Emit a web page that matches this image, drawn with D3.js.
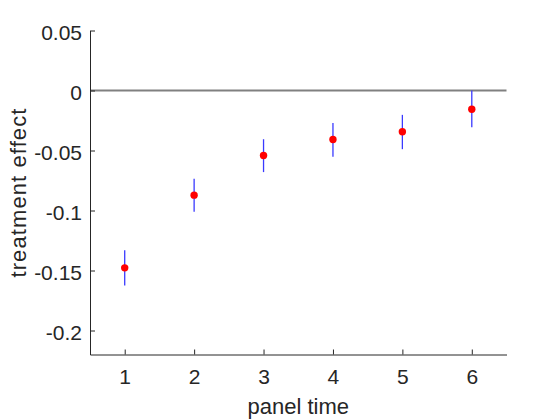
<!DOCTYPE html>
<html>
<head>
<meta charset="utf-8">
<script src="https://cdn.jsdelivr.net/npm/d3@7"></script>
<style>
  html, body { margin: 0; padding: 0; background: #fff; }
  svg { display: block; font-family: "Liberation Sans", Arial, sans-serif; }
</style>
</head>
<body>
<svg id="chart" width="560" height="420"></svg>
<script>
// ---- data ----
const panelTimes = [1, 2, 3, 4, 5, 6];
const effects    = [-0.1478, -0.0872, -0.0542, -0.0408, -0.0344, -0.0156];
const lowerCI    = [-0.1625, -0.1011, -0.0680, -0.0553, -0.0489, -0.0306];
const upperCI    = [-0.1331, -0.0736, -0.0406, -0.0270, -0.0203, 0.0000];
const xTickValues = [1, 2, 3, 4, 5, 6];
const yTickValues = [0.05, 0, -0.05, -0.1, -0.15, -0.2];
const yTickLabels = ["0.05", "0", "-0.05", "-0.1", "-0.15", "-0.2"];
const xDomain = [0.5, 6.5];
const yDomain = [-0.22, 0.05];

// ---- layout ----
const svg = d3.select("#chart");
const mLeft = 90, mRight = 506.5, mTop = 30.5, mBottom = 354.5;
const axisColor = "#262626";
const fontFam = "Liberation Sans, Arial, sans-serif";

const x = d3.scaleLinear().domain(xDomain).range([mLeft, mRight]);
const y = d3.scaleLinear().domain(yDomain).range([mBottom, mTop]);

// zero line
svg.append("line")
  .attr("x1", x(xDomain[0])).attr("x2", x(xDomain[1]))
  .attr("y1", y(0)).attr("y2", y(0))
  .attr("stroke", "#808080").attr("stroke-width", 2);

// x axis (ticks inward)
const xAxis = d3.axisBottom(x).tickValues(xTickValues).tickSizeInner(-5).tickSizeOuter(0).tickPadding(15)
  .tickFormat(d3.format("d"));
const gx = svg.append("g").attr("transform", `translate(0,${mBottom})`).call(xAxis);
gx.select(".domain").attr("stroke", axisColor);
gx.selectAll(".tick line").attr("stroke", axisColor);
gx.selectAll(".tick text").attr("fill", axisColor).attr("font-size", 21)
  .attr("font-family", fontFam);

// y axis (ticks inward)
const yAxis = d3.axisLeft(y).tickValues(yTickValues).tickSizeInner(-5).tickSizeOuter(0).tickPadding(8)
  .tickFormat((d, i) => yTickLabels[i]);
const gy = svg.append("g").attr("transform", `translate(${mLeft},0)`).call(yAxis);
gy.select(".domain").attr("stroke", axisColor);
gy.selectAll(".tick line").attr("stroke", axisColor);
gy.selectAll(".tick text").attr("fill", axisColor).attr("font-size", 21)
  .attr("font-family", fontFam).attr("dy", "0.42em");

// error bars
svg.append("g").selectAll("line").data(panelTimes).join("line")
  .attr("x1", d => x(d)).attr("x2", d => x(d))
  .attr("y1", (d, i) => y(upperCI[i])).attr("y2", (d, i) => y(lowerCI[i]))
  .attr("stroke", "#3a3aff").attr("stroke-width", 1.3);

// points
svg.append("g").selectAll("circle").data(panelTimes).join("circle")
  .attr("cx", d => x(d)).attr("cy", (d, i) => y(effects[i]))
  .attr("r", 3.7).attr("fill", "#ff0000");

// axis labels
svg.append("text")
  .attr("x", (mLeft + mRight) / 2).attr("y", 414)
  .attr("text-anchor", "middle").attr("font-size", 22).attr("fill", axisColor)
  .attr("font-family", fontFam)
  .text("panel time");

svg.append("text")
  .attr("transform", `translate(26,${(mTop + mBottom) / 2}) rotate(-90)`)
  .attr("text-anchor", "middle").attr("font-size", 22).attr("fill", axisColor)
  .attr("font-family", fontFam).attr("letter-spacing", 1.1)
  .text("treatment effect");
</script>
</body>
</html>
